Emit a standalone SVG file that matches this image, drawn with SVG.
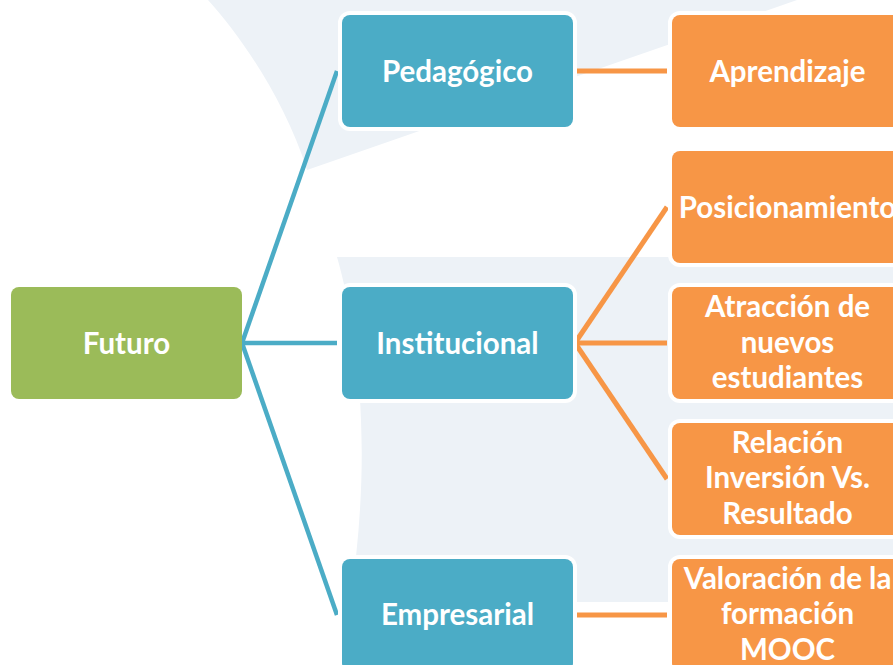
<svg xmlns="http://www.w3.org/2000/svg" width="893" height="665" viewBox="0 0 893 665">
<style>
.bg{fill:#EDF2F7}
.box{stroke:#FFFFFF;stroke-width:8;paint-order:stroke}
.blue{fill:#4BACC6}
.orange{fill:#F79646}
.green{fill:#9BBB59}
.t{font-family:Lato,"Open Sans","Liberation Sans",sans-serif;font-weight:bold;font-size:29.5px;fill:#FFFFFF;text-anchor:middle}
.cb{stroke:#4BACC6;stroke-width:4.5;fill:none}
.co{stroke:#F79646;stroke-width:5;fill:none}
</style>
<rect x="0" y="0" width="893" height="665" fill="#FFFFFF"/>
<g id="background">
<path class="bg" d="M208,0 C240,35 285,100 307,170 L797,0 Z"/>
<path class="bg" d="M337,257 L893,257 L893,602 L350,602 C375,440 355,320 337,257 Z"/>
</g>
<g id="connectors">
<line class="cb" x1="242" y1="343" x2="337" y2="71"/>
<line class="cb" x1="242" y1="343" x2="337" y2="343"/>
<line class="cb" x1="242" y1="343" x2="337" y2="615"/>
<line class="co" x1="575" y1="71" x2="667" y2="71"/>
<line class="co" x1="575" y1="343" x2="667" y2="207"/>
<line class="co" x1="575" y1="343" x2="667" y2="343"/>
<line class="co" x1="575" y1="343" x2="667" y2="479"/>
<line class="co" x1="575" y1="615" x2="667" y2="615"/>
</g>
<g id="futuro">
<rect class="green" x="11" y="287" width="231" height="112" rx="8"/>
<text class="t" x="126.5" y="353.5">Futuro</text>
</g>
<g id="pedagogico">
<rect class="box blue" x="342" y="15" width="231" height="112" rx="8"/>
<text class="t" x="457.5" y="82">Pedagógico</text>
</g>
<g id="institucional">
<rect class="box blue" x="342" y="287" width="231" height="112" rx="8"/>
<text class="t" x="457.5" y="354">Institucional</text>
</g>
<g id="empresarial">
<rect class="box blue" x="342" y="559" width="231" height="112" rx="8"/>
<text class="t" x="457.5" y="624.5">Empresarial</text>
</g>
<g id="aprendizaje">
<rect class="box orange" x="672" y="15" width="231" height="112" rx="8"/>
<text class="t" x="787.5" y="82">Aprendizaje</text>
</g>
<g id="posicionamiento">
<rect class="box orange" x="672" y="151" width="231" height="112" rx="8"/>
<text class="t" x="787.5" y="218">Posicionamiento</text>
</g>
<g id="atraccion">
<rect class="box orange" x="672" y="287" width="231" height="112" rx="8"/>
<text class="t" x="787.5" y="316.5">Atracción de<tspan x="787.5" y="352.5">nuevos</tspan><tspan x="787.5" y="388">estudiantes</tspan></text>
</g>
<g id="relacion">
<rect class="box orange" x="672" y="423" width="231" height="112" rx="8"/>
<text class="t" x="787.5" y="452.5">Relación<tspan x="787.5" y="488">Inversión Vs.</tspan><tspan x="787.5" y="523.5">Resultado</tspan></text>
</g>
<g id="valoracion">
<rect class="box orange" x="672" y="559" width="231" height="112" rx="8"/>
<text class="t" x="787.5" y="588.5">Valoración de la<tspan x="787.5" y="624">formación</tspan><tspan x="787.5" y="659.5">MOOC</tspan></text>
</g>
</svg>
